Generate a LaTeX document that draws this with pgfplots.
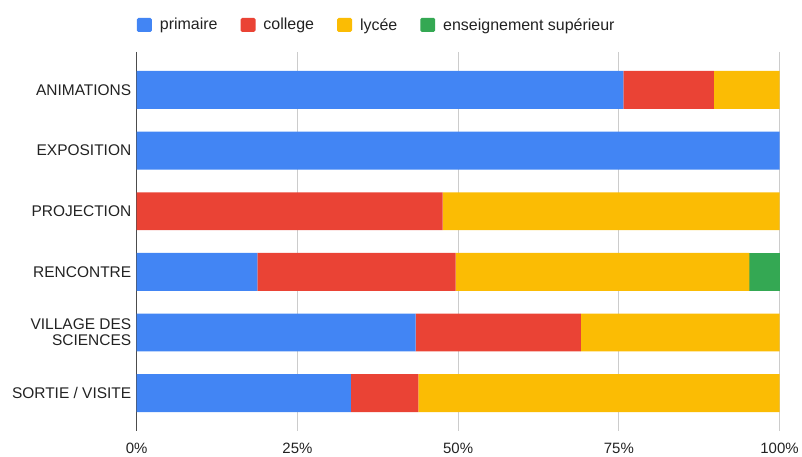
\documentclass[border=0pt]{standalone}
\usepackage{pgfplots}
\pgfplotsset{compat=1.18}
\usepackage{fontspec}
\setmainfont{Liberation Sans}
\definecolor{gblue}{HTML}{4285F4}
\definecolor{gred}{HTML}{EA4335}
\definecolor{gyellow}{HTML}{FBBC04}
\definecolor{ggreen}{HTML}{34A853}
\definecolor{txt}{HTML}{222222}
\begin{document}
\begin{tikzpicture}
  \path (0pt,0pt) rectangle (802pt,455pt);
  \begin{axis}[
    at={(137pt,23pt)}, anchor=south west,
    scale only axis, width=644pt, height=380pt,
    xbar stacked, bar width=38pt,
    xmin=0, xmax=100, ymin=-0.627, ymax=5.627,
    y dir=reverse,
    ytick={0,...,5},
    yticklabels={ANIMATIONS,EXPOSITION,PROJECTION,RENCONTRE,VILLAGE DES\\SCIENCES,SORTIE / VISITE},
    yticklabel style={align=right, font=\fontsize{15.5}{16}\selectfont, text=txt, xshift=-2pt},
    xtick={0,25,50,75,100},
    xticklabels={0\%,25\%,50\%,75\%,100\%},
    xticklabel style={font=\fontsize{15}{15}\selectfont, text=txt, yshift=-8pt},
    major tick length=0pt,
    xmajorgrids, major grid style={color=black!20, line width=1pt},
    axis line style={draw=none},
    legend style={at={(0,1)}, anchor=west, yshift=27pt, draw=none, inner sep=0pt,
      font=\fontsize{16}{16}\selectfont, text=txt,
      legend columns=-1,
      /tikz/every odd column/.style={column sep=6pt},
      /tikz/every even column/.style={column sep=21pt}},
    legend image code/.code={\fill[#1, rounded corners=1.5pt] (0pt,-7pt) rectangle (15pt,7pt);},
    every axis plot/.append style={draw=none},
    clip=false,
  ]
  \addplot[fill=gblue] coordinates {(75.7,0) (100,1) (0,2) (18.75,3) (43.4,4) (33.3,5)};
  \addplot[fill=gred] coordinates {(14.1,0) (0,1) (47.6,2) (30.85,3) (25.7,4) (10.5,5)};
  \addplot[fill=gyellow] coordinates {(10.2,0) (0,1) (52.4,2) (45.7,3) (30.9,4) (56.2,5)};
  \addplot[fill=ggreen] coordinates {(0,0) (0,1) (0,2) (4.7,3) (0,4) (0,5)};
  \legend{primaire,college,lycée,enseignement supérieur}
  \draw[black!70, line width=1pt] (axis cs:0,-0.627) -- (axis cs:0,5.627);
  \end{axis}
\end{tikzpicture}
\end{document}
